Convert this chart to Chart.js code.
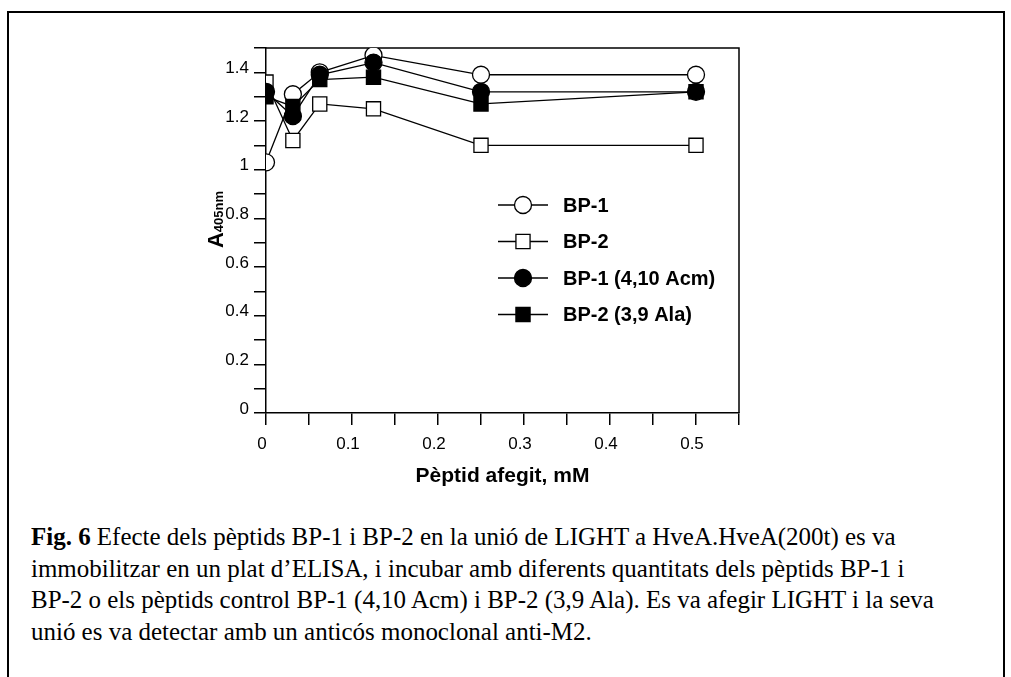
<!DOCTYPE html>
<html>
<head>
<meta charset="utf-8">
<script src="https://cdn.jsdelivr.net/npm/chart.js@4.4.1/dist/chart.umd.min.js"></script>
<style>
    html, body { margin: 0; padding: 0; background: #fff; }
    body { width: 1011px; height: 677px; position: relative; overflow: hidden; }
    #frame {
        position: absolute; left: 7px; top: 11px; width: 994px; height: 700px;
        border: 2px solid #000; border-bottom: none;
    }
    #chartWrap { position: absolute; left: 0; top: 0; width: 1011px; height: 500px; }
    #caption {
        position: absolute; left: 31px; top: 521px;
        font-family: 'Liberation Serif', 'Times New Roman', serif;
        font-size: 26px; line-height: 31.5px; color: #000; white-space: nowrap;
        transform: scaleX(0.96); transform-origin: 0 0;
    }
</style>
</head>
<body>
<div id="frame"></div>
<div id="chartWrap"><canvas id="AbsorbanceChart"></canvas></div>
<div id="caption">
    <b>Fig. 6</b> Efecte dels pèptids BP-1 i BP-2 en la unió de LIGHT a HveA.HveA(200t) es va<br>
    immobilitzar en un plat d’ELISA, i incubar amb diferents quantitats dels pèptids BP-1 i<br>
    BP-2 o els pèptids control BP-1 (4,10 Acm) i BP-2 (3,9 Ala). Es va afegir LIGHT i la seva<br>
    unió es va detectar amb un anticós monoclonal anti-M2.
</div>
<script>
//Peptide concentrations (mM)
const peptideConc = [0, 0.03125, 0.0625, 0.125, 0.25, 0.5];

//A405nm readings per peptide
const bp1Values = [1.03, 1.31, 1.40, 1.47, 1.39, 1.39];
const bp2Values = [1.36, 1.12, 1.27, 1.25, 1.10, 1.10];
const bp1AcmValues = [1.32, 1.22, 1.39, 1.44, 1.32, 1.32];
const bp2AlaValues = [1.30, 1.26, 1.37, 1.38, 1.27, 1.32];

const seriesNames = ['BP-1', 'BP-2', 'BP-1 (4,10 Acm)', 'BP-2 (3,9 Ala)'];

const sansFont = "'Liberation Sans', Arial, sans-serif";

function toPoints(values) {
    return values.map((v, i) => ({ x: peptideConc[i], y: v }));
}

function buildDataset(label, values, style, filled, order) {
    return {
        label: label,
        data: toPoints(values),
        borderColor: '#000',
        borderWidth: 1.3,
        pointStyle: style,
        pointRadius: style === 'rect' ? 10 : 8.5,
        pointBorderWidth: 1.3,
        pointBorderColor: '#000',
        pointBackgroundColor: filled ? '#000' : '#fff',
        tension: 0,
        order: order
    };
}

function drawMarker(ctx, ds, x, y) {
    ctx.beginPath();
    if (ds.pointStyle === 'rect') {
        let half = ds.pointRadius * Math.SQRT1_2;
        ctx.rect(x - half, y - half, half * 2, half * 2);
    } else {
        ctx.arc(x, y, ds.pointRadius, 0, Math.PI * 2);
    }
    ctx.fillStyle = ds.pointBackgroundColor;
    ctx.fill();
    ctx.lineWidth = ds.pointBorderWidth;
    ctx.strokeStyle = '#000';
    ctx.stroke();
}

//Closes the plot box, adds the subscripted y title and the inset legend
const plotDecor = {
    id: 'plotDecor',
    beforeDatasetsDraw(chart) {
        const { ctx, chartArea } = chart;
        ctx.save();
        ctx.strokeStyle = '#000';
        ctx.lineWidth = 1.5;
        ctx.beginPath();
        ctx.moveTo(chartArea.left, chartArea.top);
        ctx.lineTo(chartArea.right, chartArea.top);
        ctx.lineTo(chartArea.right, chartArea.bottom);
        ctx.stroke();
        ctx.restore();
    },
    afterDraw(chart) {
        const { ctx, chartArea } = chart;
        ctx.save();

        //y title: A with 405nm subscript
        ctx.translate(chartArea.left - 51, (chartArea.top + chartArea.bottom) / 2 - 11);
        ctx.rotate(-Math.PI / 2);
        ctx.fillStyle = '#000';
        ctx.textBaseline = 'alphabetic';
        ctx.font = 'bold 22px ' + sansFont;
        let wA = ctx.measureText('A').width;
        ctx.font = 'bold 13px ' + sansFont;
        let wSub = ctx.measureText('405nm').width;
        let startX = -(wA + wSub) / 2;
        ctx.font = 'bold 22px ' + sansFont;
        ctx.fillText('A', startX, 8);
        ctx.font = 'bold 13px ' + sansFont;
        ctx.fillText('405nm', startX + wA, 8);
        ctx.restore();

        //legend
        ctx.save();
        let lineX0 = chartArea.left + 232;
        let lineX1 = chartArea.left + 282;
        let textX = chartArea.left + 297;
        let rowY = chartArea.top + 157;
        chart.data.datasets.forEach(function (ds, i) {
            let y = rowY + i * 36.5;
            ctx.strokeStyle = '#000';
            ctx.lineWidth = 1.3;
            ctx.beginPath();
            ctx.moveTo(lineX0, y);
            ctx.lineTo(lineX1, y);
            ctx.stroke();
            drawMarker(ctx, ds, (lineX0 + lineX1) / 2, y);
            ctx.fillStyle = '#000';
            ctx.font = 'bold 20px ' + sansFont;
            ctx.textBaseline = 'middle';
            ctx.fillText(ds.label, textX, y + 1);
        });
        ctx.restore();
    }
};

new Chart(
    document.getElementById('AbsorbanceChart'),
    {
        type: 'line',
        data: {
            datasets: [
                buildDataset(seriesNames[0], bp1Values, 'circle', false, 4),
                buildDataset(seriesNames[1], bp2Values, 'rect', false, 3),
                buildDataset(seriesNames[2], bp1AcmValues, 'circle', true, 2),
                buildDataset(seriesNames[3], bp2AlaValues, 'rect', true, 1)
            ]
        },
        options: {
            responsive: true,
            maintainAspectRatio: false,
            animation: false,
            devicePixelRatio: 1,
            layout: { padding: { left: 0, top: 48, right: 272, bottom: 0 } },
            plugins: {
                legend: { display: false },
                tooltip: { enabled: false }
            },
            scales: {
                x: {
                    type: 'linear',
                    min: 0,
                    max: 0.55,
                    afterFit: function (scale) { scale.height = 87; },
                    border: { display: true, color: '#000', width: 1.5 },
                    grid: { drawOnChartArea: false, color: '#000', lineWidth: 1.5, tickLength: 12 },
                    ticks: {
                        stepSize: 0.05,
                        autoSkip: false,
                        maxRotation: 0,
                        color: '#000',
                        padding: 9,
                        labelOffset: -4,
                        font: { family: sansFont, size: 17 },
                        callback: function (value) {
                            let tenths = Math.round(value * 100);
                            return tenths % 10 === 0 ? String(tenths / 100) : '';
                        }
                    },
                    title: {
                        display: true,
                        text: 'Pèptid afegit, mM',
                        color: '#000',
                        font: { family: sansFont, size: 21, weight: 'bold' },
                        padding: { top: 0, bottom: 11 }
                    }
                },
                y: {
                    min: 0,
                    max: 1.5,
                    afterFit: function (scale) { scale.width = 266; },
                    border: { display: true, color: '#000', width: 1.5 },
                    grid: { drawOnChartArea: false, color: '#000', lineWidth: 1.5, tickLength: 12 },
                    ticks: {
                        stepSize: 0.1,
                        autoSkip: false,
                        color: '#000',
                        padding: 5,
                        labelOffset: -4,
                        font: { family: sansFont, size: 17 },
                        callback: function (value) {
                            let tenths = Math.round(value * 10);
                            return tenths % 2 === 0 ? String(tenths / 10) : '';
                        }
                    }
                }
            }
        },
        plugins: [plotDecor]
    }
);
</script>
</body>
</html>
